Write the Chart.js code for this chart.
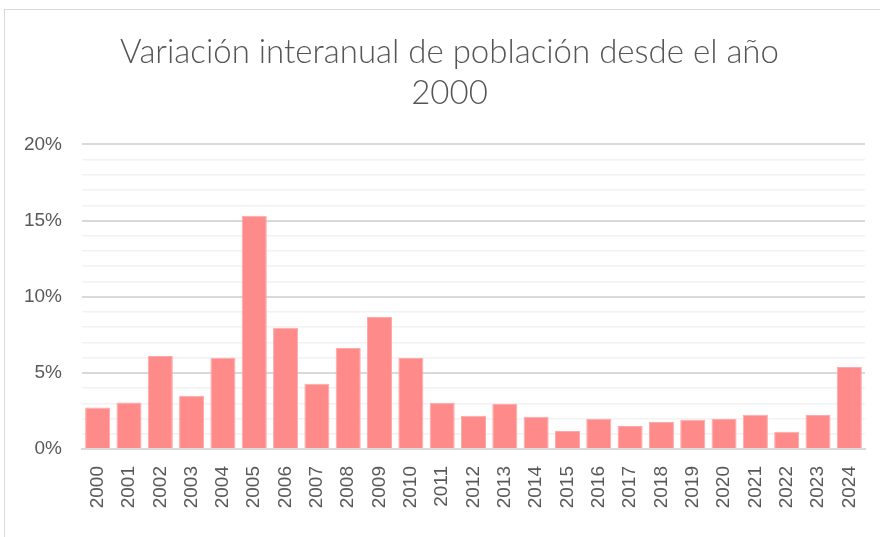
<!DOCTYPE html>
<html>
<head>
<meta charset="utf-8">
<script src="https://cdn.jsdelivr.net/npm/chart.js@4/dist/chart.umd.min.js"></script>
<style>
    html, body { margin: 0; padding: 0; background: #fff; overflow: hidden; }
    #frame {
        position: absolute;
        left: 4px;
        top: 9px;
        width: 900px;
        height: 560px;
        border: 1px solid #d9d9d9;
        background: #fff;
    }
    #chart { display: block; }
</style>
</head>
<body>
<div id="frame">
    <canvas id="chart" width="900" height="560"></canvas>
</div>
<script>
// años
const years = ['2000', '2001', '2002', '2003', '2004', '2005', '2006', '2007', '2008', '2009',
               '2010', '2011', '2012', '2013', '2014', '2015', '2016', '2017', '2018', '2019',
               '2020', '2021', '2022', '2023', '2024'];

// variación interanual (fracción)
const variacion = [0.0273, 0.0306, 0.0610, 0.0350, 0.0599, 0.1531, 0.0796, 0.0429, 0.0663, 0.0866,
                   0.0597, 0.0304, 0.0219, 0.0295, 0.0212, 0.0118, 0.0199, 0.0151, 0.0177, 0.0192,
                   0.0197, 0.0225, 0.0114, 0.0223, 0.0538];

const titleLines = ['Variación interanual de población desde el año', '2000'];

const textColor = '#595959';

const ctx = document.getElementById('chart').getContext('2d');

const chart = new Chart(ctx, {
    type: 'bar',
    data: {
        labels: years,
        datasets: [{
            label: 'Variación',
            data: variacion,
            backgroundColor: '#FF8A8A',
            borderColor: '#FFA8A8',
            borderWidth: 1,
            barPercentage: 0.8,
            categoryPercentage: 1.0
        }]
    },
    options: {
        responsive: false,
        animation: false,
        layout: {
            padding: { left: 0, right: 11, top: 0, bottom: 0 }
        },
        plugins: {
            legend: { display: false },
            tooltip: { enabled: false },
            title: {
                display: true,
                text: titleLines,
                color: '#555555',
                font: { family: 'Lato', size: 33, weight: '300', lineHeight: 1.24 },
                padding: { top: 21.5, bottom: 31 }
            }
        },
        scales: {
            x: {
                grid: { display: false, drawTicks: false },
                border: { display: true, color: '#d9d9d9', width: 2 },
                ticks: {
                    color: textColor,
                    font: { family: 'Liberation Sans', size: 19 },
                    minRotation: 90,
                    maxRotation: 90,
                    autoSkip: false,
                    padding: 17
                },
                afterFit: (scale) => { scale.height = 560 - 439; }
            },
            y: {
                min: 0,
                max: 0.2,
                border: { display: false },
                grid: {
                    drawTicks: false,
                    color: (c) => (Math.round(c.tick.value * 100) % 5 === 0) ? '#d9d9d9' : '#f2f2f2',
                    lineWidth: (c) => (Math.round(c.tick.value * 100) % 5 === 0) ? 2 : 1.5
                },
                ticks: {
                    stepSize: 0.01,
                    autoSkip: false,
                    color: textColor,
                    font: { family: 'Liberation Sans', size: 19 },
                    padding: 20,
                    callback: (v) => {
                        const p = Math.round(v * 100);
                        return p % 5 === 0 ? p + '%' : '';
                    }
                },
                afterFit: (scale) => { scale.width = 77; }
            },
            // hueco vacío a la derecha del área de trazado
            yRight: {
                position: 'right',
                display: true,
                grid: { display: false, drawTicks: false },
                border: { display: false },
                ticks: { display: false },
                afterFit: (scale) => { scale.width = 29; }
            }
        }
    }
});
</script>
</body>
</html>
